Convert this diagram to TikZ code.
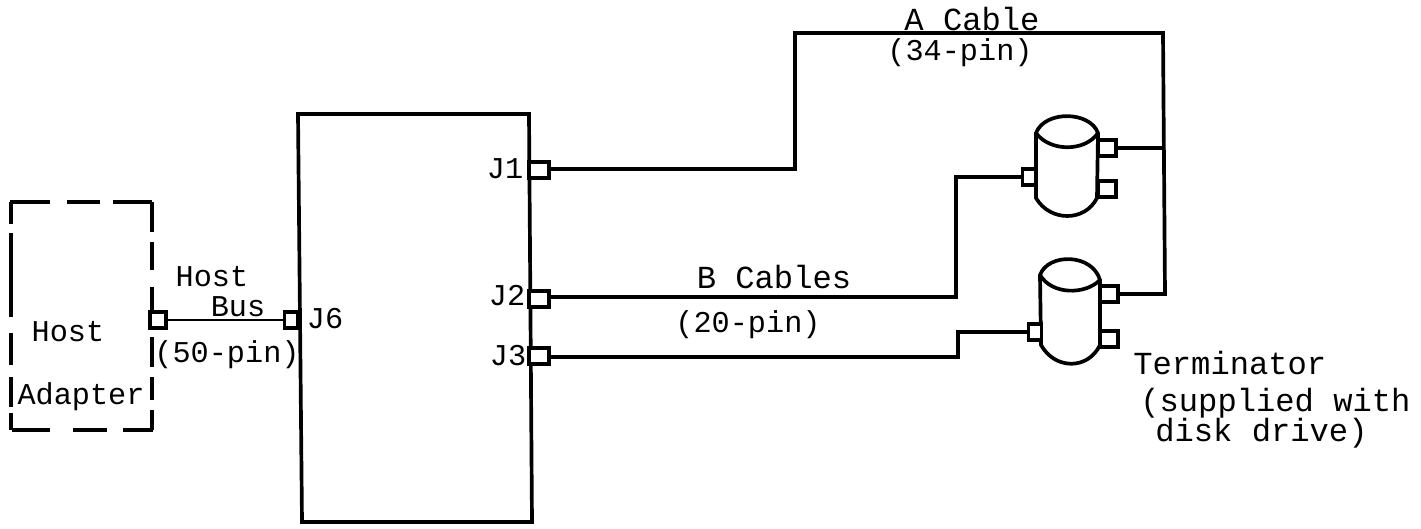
\documentclass[tikz,border=0pt]{standalone}
\usepackage{tikz}
\usepackage{fontspec}
\setmainfont{Liberation Mono}
\tikzset{
  wire/.style={line width=2.1pt},
  thinwire/.style={line width=1.7pt},
  port/.style={draw,line width=2pt,fill=white,minimum width=0.36cm,minimum height=0.32cm,inner sep=0pt},
  smallport/.style={port,minimum width=0.26cm},
  lbl/.style={inner sep=0pt,font=\fontsize{17.2}{18}\selectfont},
  widelbl/.style={inner sep=0pt,font=\fontsize{18.3}{20}\selectfont},
}
\begin{document}
\begin{tikzpicture}[x=0.02cm,y=-0.02cm]
\useasboundingbox (0,0) rectangle (1421,528);
% host adapter
\foreach \a/\b in {10/50,67/100,113/152} \draw[wire] (\a,202) -- (\b,202);
\foreach \a/\b in {12/50,73/107,123/153} \draw[wire] (\a,430) -- (\b,430);
\foreach \a/\b in {202/224,233/317,333/365,377/407,413/430} \draw[wire] (11,\a) -- (11,\b);
\foreach \a/\b in {202/232,242/270,287/316,337/367,377/400,410/430} \draw[wire] (152,\a) -- (152,\b);
\node[lbl] (host) at (68,332) {Host};
\node[lbl] (adapter) at (81,397) {Adapter};
% controller board
\draw[wire] (298,114) -- (529,114) -- (532,522) -- (302,522) -- cycle;
\node[port,minimum width=0.32cm] (pH) at (158,320) {};
\node[smallport] (pJ6) at (291,320) {};
\node[port,minimum width=0.4cm] (pJ1) at (539,170) {};
\node[port,minimum width=0.4cm] (pJ2) at (539,299) {};
\node[port,minimum width=0.4cm] (pJ3) at (539,356) {};
\node[lbl] (j6) at (325,319) {J6};
\node[lbl] (j1) at (505,169) {J1};
\node[lbl] (j2) at (507,296) {J2};
\node[lbl] (j3) at (508,356) {J3};
\node[lbl] (hb1) at (212,277) {Host};
\node[lbl] (hb2) at (238,307) {Bus};
\node[lbl] (pin50) at (227,355) {(50-pin)};
% disk drives
\draw[wire,fill=white] (1036,133) .. controls (1045,110) and (1090,111) .. (1098,133)
  -- (1097,198) .. controls (1085,222) and (1050,222) .. (1036,198) -- cycle;
\draw[wire] (1036,133) .. controls (1050,152) and (1085,152) .. (1098,133);
\draw[wire,fill=white] (1040,275) .. controls (1048,253) and (1092,253) .. (1100,280)
  -- (1100,345) .. controls (1088,370) and (1055,370) .. (1041,345) -- cycle;
\draw[wire] (1040,275) .. controls (1052,295) and (1085,295) .. (1100,280);
\node[smallport] (d1in) at (1029,177) {};
\node[port] (d1a) at (1107,148) {};
\node[port] (d1b) at (1107,189) {};
\node[smallport] (d2in) at (1035,332) {};
\node[port] (d2a) at (1109,294) {};
\node[port] (d2b) at (1109,339) {};
% junctions
\coordinate (a1) at (795,169);
\coordinate (a2) at (795,33);
\coordinate (a3) at (1163,33);
\coordinate (a4) at (1163,148);
\coordinate (a5) at (1165,294);
\coordinate (b1) at (956,297);
\coordinate (b2) at (956,177);
\coordinate (c1) at (958,357);
\coordinate (c2) at (958,332);
% cables
\draw[thinwire] (pH) -- (pJ6);
\draw[wire] (pJ1.east |- a1) -- (a1) -- (a2) -- (a3) -- (a5) -- (d2a);
\draw[wire] (a4) -- (d1a);
\draw[wire] (pJ2.east |- b1) -- (b1) -- (b2) -- (d1in);
\draw[wire] (pJ3.east |- c1) -- (c1) -- (c2) -- (d2in);
% labels
\node[widelbl] (acable) at (972,19) {A Cable};
\node[lbl] (pin34) at (960,53) {(34-pin)};
\node[widelbl] (bcable) at (774,277) {B Cables};
\node[lbl] (pin20) at (748,325) {(20-pin)};
\node[widelbl,anchor=west] (term) at (1133,363) {Terminator};
\node[widelbl,anchor=west] (sup1) at (1140,403) {(supplied with};
\node[widelbl,anchor=west] (sup2) at (1155,433) {disk drive)};
\end{tikzpicture}
\end{document}
